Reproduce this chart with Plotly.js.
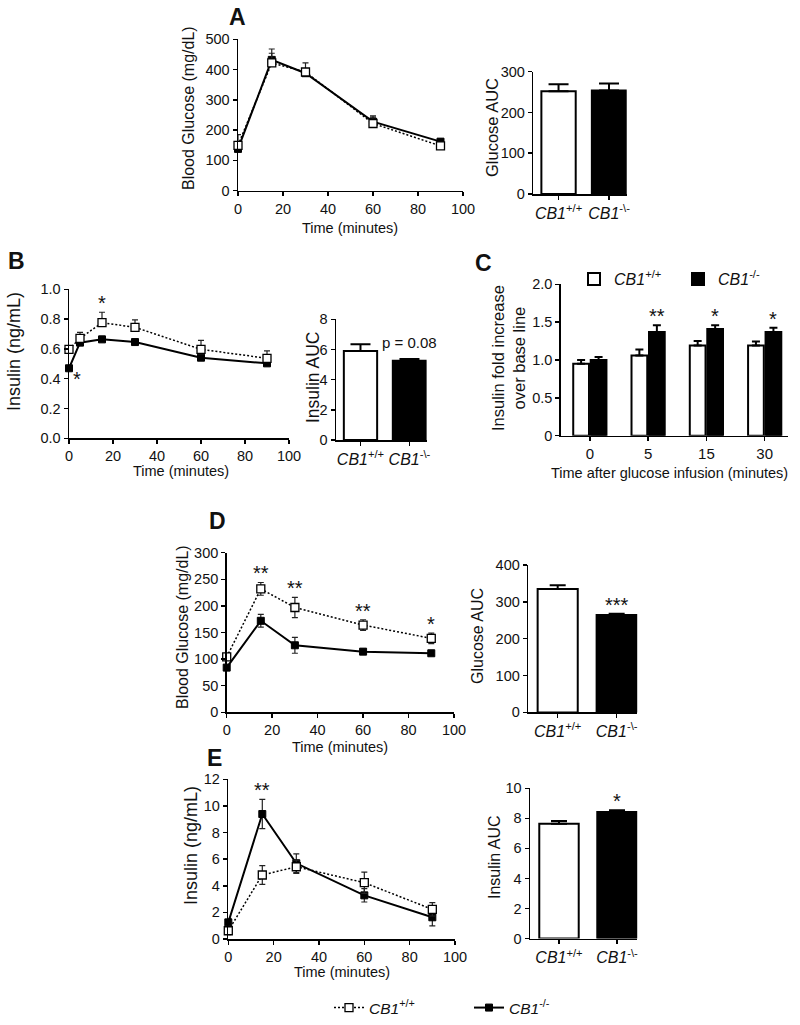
<!DOCTYPE html>
<html>
<head>
<meta charset="utf-8">
<script src="https://cdn.plot.ly/plotly-3.0.1.min.js"></script>
<style>html,body{margin:0;padding:0;background:#fff;overflow:hidden;}#chart{width:800px;height:1025px;}</style>
</head>
<body>
<div id="chart"></div>
<script>
// ---------------- DATA ----------------
const WT_NAME = '<i>CB1</i><sup>+/+</sup>';
const KO_NAME = '<i>CB1</i><sup>-/-</sup>';
const AUC_LABELS = ['<i>CB1</i><sup>+/+</sup>', '<i>CB1</i><sup>-\\-</sup>'];

// Panel A: glucose tolerance (mg/dL)
const A_time = [0, 15, 30, 60, 90];
const A_wt = [150, 422, 392, 222, 148];
const A_wt_err = [35, 46, 30, 25, 10];
const A_ko = [138, 432, 388, 228, 162];
const A_ko_err = [10, 22, 15, 15, 8];
const A_auc = [252, 254];
const A_auc_err = [17, 17];

// Panel B: insulin (ng/mL)
const B_time = [0, 5, 15, 30, 60, 90];
const B_wt = [0.597, 0.671, 0.776, 0.745, 0.597, 0.537];
const B_wt_err = [0.02, 0.04, 0.07, 0.05, 0.06, 0.05];
const B_ko = [0.47, 0.642, 0.664, 0.646, 0.541, 0.503];
const B_ko_err = [0.015, 0.015, 0.02, 0.015, 0.01, 0.01];
const B_stars_wt = ['', '', '*', '', '', ''];
const B_stars_ko = ['*', '', '', '', '', ''];
const B_auc = [5.9, 5.25];
const B_auc_err = [0.45, 0.12];
const B_auc_note = 'p = 0.08';

// Panel C: insulin fold increase over base line
const C_cats = ['0', '5', '15', '30'];
const C_wt = [0.95, 1.06, 1.19, 1.19];
const C_wt_err = [0.05, 0.08, 0.06, 0.055];
const C_ko = [1.0, 1.37, 1.41, 1.37];
const C_ko_err = [0.04, 0.09, 0.05, 0.055];
const C_stars = ['', '**', '*', '*'];

// Panel D: glucose (mg/dL)
const D_time = [0, 15, 30, 60, 90];
const D_wt = [104, 232, 197, 164, 139];
const D_wt_err = [5, 12, 19, 10, 10];
const D_ko = [84, 172, 126, 114, 111];
const D_ko_err = [3, 12, 15, 5, 3];
const D_stars = ['', '**', '**', '**', '*'];
const D_auc = [335, 264];
const D_auc_err = [10, 4];
const D_auc_stars = ['', '***'];

// Panel E: insulin (ng/mL)
const E_time = [0, 15, 30, 60, 90];
const E_wt = [0.62, 4.81, 5.43, 4.23, 2.23];
const E_wt_err = [0.3, 0.7, 0.5, 0.8, 0.5];
const E_ko = [1.25, 9.39, 5.69, 3.28, 1.63];
const E_ko_err = [0.3, 1.1, 0.7, 0.5, 0.65];
const E_stars = ['', '**', '', '', ''];
const E_auc = [7.64, 8.42];
const E_auc_err = [0.18, 0.12];
const E_auc_stars = ['', '*'];

// ---------------- STYLE / LAYOUT HELPERS ----------------
const FONT = 'Liberation Sans, Arial, Helvetica, sans-serif';
const TXT = '#111';
const W = 800, H = 1025;
const px = x => x / W;
const py = y => 1 - y / H;

function axBase(extra) {
  return Object.assign({
    showline: true, linecolor: '#000', linewidth: 1.5,
    ticks: 'outside', ticklen: 4, tickwidth: 1.5, tickcolor: '#000',
    showgrid: false, zeroline: false, fixedrange: true,
    tickfont: {family: FONT, size: 14.5, color: TXT}
  }, extra);
}
function xAx(l, r, range, anchor, extra) {
  return axBase(Object.assign({domain: [px(l), px(r)], range: range, anchor: anchor}, extra || {}));
}
function yAx(top, bottom, range, anchor, extra) {
  return axBase(Object.assign({domain: [py(bottom), py(top)], range: range, anchor: anchor}, extra || {}));
}
const zeros = a => a.map(() => 0);
const catFont = {family: FONT, size: 16, color: TXT};

function lineTraces(xa, ya, t, wt, wtE, ko, koE, upOnly, legend) {
  const ko_tr = {
    type: 'scatter', mode: 'lines+markers', x: t, y: ko, xaxis: xa, yaxis: ya,
    name: KO_NAME, showlegend: legend, legendrank: 2, cliponaxis: false,
    line: {color: '#000', width: 2},
    marker: {symbol: 'square', size: 7, color: '#000', line: {color: '#000', width: 1}},
    error_y: {type: 'data', array: koE, arrayminus: upOnly ? zeros(koE) : koE, symmetric: false,
              color: '#222', thickness: 1.2, width: 3}
  };
  const wt_tr = {
    type: 'scatter', mode: 'lines+markers', x: t, y: wt, xaxis: xa, yaxis: ya,
    name: WT_NAME, showlegend: legend, legendrank: 1, cliponaxis: false,
    line: {color: '#000', width: 1.5, dash: '2px,2px'},
    marker: {symbol: 'square', size: 8, color: '#fff', line: {color: '#000', width: 1.3}},
    error_y: {type: 'data', array: wtE, arrayminus: upOnly ? zeros(wtE) : wtE, symmetric: false,
              color: '#222', thickness: 1.2, width: 3}
  };
  return [ko_tr, wt_tr];
}
function aucTrace(xa, ya, vals, errs, capw) {
  return {
    type: 'bar', x: [0, 1], y: vals, width: 0.68, xaxis: xa, yaxis: ya, showlegend: false,
    marker: {color: ['#fff', '#000'], line: {color: '#000', width: 2}},
    error_y: {type: 'data', array: errs, arrayminus: zeros(errs), symmetric: false,
              color: '#000', thickness: 2, width: capw}
  };
}

// ---------------- TRACES ----------------
const traces = [];
traces.push(...lineTraces('x', 'y', A_time, A_wt, A_wt_err, A_ko, A_ko_err, true, false));
traces.push(aucTrace('x2', 'y2', A_auc, A_auc_err, 10));
traces.push(...lineTraces('x3', 'y3', B_time, B_wt, B_wt_err, B_ko, B_ko_err, true, false));
traces.push(aucTrace('x4', 'y4', B_auc, B_auc_err, 10));
traces.push({
  type: 'bar', x: [0, 1, 2, 3], y: C_wt, xaxis: 'x5', yaxis: 'y5', name: WT_NAME, legend: 'legend2',
  marker: {color: '#fff', line: {color: '#000', width: 2}},
  error_y: {type: 'data', array: C_wt_err, arrayminus: zeros(C_wt_err), symmetric: false, color: '#000', thickness: 2, width: 4}
});
traces.push({
  type: 'bar', x: [0, 1, 2, 3], y: C_ko, xaxis: 'x5', yaxis: 'y5', name: KO_NAME, legend: 'legend2',
  marker: {color: '#000', line: {color: '#000', width: 2}},
  error_y: {type: 'data', array: C_ko_err, arrayminus: zeros(C_ko_err), symmetric: false, color: '#000', thickness: 2, width: 4}
});
traces.push(...lineTraces('x6', 'y6', D_time, D_wt, D_wt_err, D_ko, D_ko_err, false, false));
traces.push(aucTrace('x7', 'y7', D_auc, D_auc_err, 8));
traces.push(...lineTraces('x8', 'y8', E_time, E_wt, E_wt_err, E_ko, E_ko_err, false, true));
traces.push(aucTrace('x9', 'y9', E_auc, E_auc_err, 8));

// ---------------- ANNOTATIONS ----------------
const ann = [];
function txt(x, y, text, size, opts) {
  ann.push(Object.assign({xref: 'paper', yref: 'paper', x: px(x), y: py(y), text: text, showarrow: false,
    xanchor: 'center', yanchor: 'middle', font: {family: FONT, size: size, color: TXT}}, opts || {}));
}
function starsAbove(xa, ya, xs, tops, labels, dx) {
  labels.forEach((s, i) => {
    if (!s) return;
    ann.push({xref: xa, yref: ya, x: xs[i] + (dx || 0), y: tops[i], text: s, showarrow: false,
      xanchor: 'center', yanchor: 'bottom', yshift: -4,
      font: {family: FONT, size: 20, color: TXT}});
  });
}
const topOf = (v, e) => v.map((d, i) => d + e[i]);
const maxTop = (a, b) => a.map((d, i) => Math.max(d, b[i]));

// panel letters
txt(237, 17, '<b>A</b>', 23);
txt(16, 261, '<b>B</b>', 23);
txt(483, 263, '<b>C</b>', 23);
txt(217, 521, '<b>D</b>', 23);
txt(214, 758, '<b>E</b>', 23);

// axis titles
txt(189, 108, 'Blood Glucose (mg/dL)', 16, {textangle: -90});
txt(350, 228, 'Time (minutes)', 14.5);
txt(492, 128, 'Glucose AUC', 16.5, {textangle: -90});
txt(14, 352, 'Insulin (ng/mL)', 18, {textangle: -90});
txt(181, 471, 'Time (minutes)', 14.5);
txt(313, 378, 'Insulin AUC', 17.5, {textangle: -90});
txt(508, 358, 'Insulin fold increase<br>over base line', 16.5, {textangle: -90});
txt(669, 473, 'Time after glucose infusion (minutes)', 14.5);
txt(182, 627, 'Blood Glucose (mg/dL)', 16, {textangle: -90});
txt(340, 747, 'Time (minutes)', 14.5);
txt(477, 636, 'Glucose AUC', 16, {textangle: -90});
txt(191, 846, 'Insulin (ng/mL)', 18, {textangle: -90});
txt(342, 972, 'Time (minutes)', 14.5);
txt(494, 857, 'Insulin AUC', 16, {textangle: -90});

// significance marks
starsAbove('x3', 'y3', B_time, topOf(B_wt, B_wt_err), B_stars_wt);
B_stars_ko.forEach((s, i) => {
  if (!s) return;
  ann.push({xref: 'x3', yref: 'y3', x: B_time[i], y: B_ko[i], text: s, showarrow: false,
    xanchor: 'center', yanchor: 'top', xshift: 8, yshift: 2, font: {family: FONT, size: 20, color: TXT}});
});
ann.push({xref: 'x4', yref: 'y4', x: 1, y: B_auc[1] + B_auc_err[1], text: B_auc_note, showarrow: false,
  xanchor: 'center', yanchor: 'bottom', yshift: 6, font: {family: FONT, size: 15, color: TXT}});
starsAbove('x5', 'y5', [0, 1, 2, 3], topOf(C_ko, C_ko_err), C_stars, 0.15);
starsAbove('x6', 'y6', D_time, maxTop(topOf(D_wt, D_wt_err), topOf(D_ko, D_ko_err)), D_stars);
starsAbove('x7', 'y7', [0, 1], topOf(D_auc, D_auc_err), D_auc_stars);
starsAbove('x8', 'y8', E_time, maxTop(topOf(E_wt, E_wt_err), topOf(E_ko, E_ko_err)), E_stars);
starsAbove('x9', 'y9', [0, 1], topOf(E_auc, E_auc_err), E_auc_stars);

// ---------------- LAYOUT ----------------
const t20 = [0, 20, 40, 60, 80, 100];
const layout = {
  autosize: false,
  width: W, height: H, margin: {l: 0, r: 0, t: 0, b: 0, pad: 0, autoexpand: false},
  paper_bgcolor: '#fff', plot_bgcolor: 'rgba(0,0,0,0)',
  font: {family: FONT, color: TXT},
  barmode: 'group', bargap: 0.4, bargroupgap: 0.1,
  // A
  xaxis: xAx(238, 463, [0, 100], 'y', {tickvals: t20}),
  yaxis: yAx(39.3, 190.7, [0, 500], 'x', {tickvals: [0, 100, 200, 300, 400, 500]}),
  xaxis2: xAx(533.3, 626.7, [-0.5, 1.35], 'y2', {tickvals: [0, 1], ticktext: AUC_LABELS, tickfont: catFont}),
  yaxis2: yAx(71.7, 194, [0, 300], 'x2', {tickvals: [0, 100, 200, 300]}),
  // B
  xaxis3: xAx(69, 289, [0, 100], 'y3', {tickvals: t20}),
  yaxis3: yAx(289.3, 438.3, [0, 1], 'x3', {tickvals: [0, 0.2, 0.4, 0.6, 0.8, 1.0], tickformat: '.1f'}),
  xaxis4: xAx(336, 426.6, [-0.5, 1.35], 'y4', {tickvals: [0, 1], ticktext: AUC_LABELS, tickfont: catFont}),
  yaxis4: yAx(319.3, 440, [0, 8], 'x4', {tickvals: [0, 2, 4, 6, 8]}),
  // C
  xaxis5: xAx(560.7, 788, [-0.5, 3.4], 'y5', {tickvals: [0, 1, 2, 3], ticktext: C_cats, tickfont: {family: FONT, size: 15, color: TXT}}),
  yaxis5: yAx(284.3, 435.7, [0, 2], 'x5', {tickvals: [0, 0.5, 1, 1.5, 2], ticktext: ['0', '0.5', '1.0', '1.5', '2.0']}),
  // D
  xaxis6: xAx(226.7, 454, [0, 100], 'y6', {tickvals: t20}),
  yaxis6: yAx(552.7, 712.3, [0, 300], 'x6', {tickvals: [0, 50, 100, 150, 200, 250, 300]}),
  xaxis7: xAx(528.2, 637.3, [-0.5, 1.35], 'y7', {tickvals: [0, 1], ticktext: AUC_LABELS, tickfont: catFont}),
  yaxis7: yAx(565, 712.4, [0, 400], 'x7', {tickvals: [0, 100, 200, 300, 400]}),
  // E
  xaxis8: xAx(228.3, 455, [0, 100], 'y8', {tickvals: t20}),
  yaxis8: yAx(779.3, 939, [0, 12], 'x8', {tickvals: [0, 2, 4, 6, 8, 10, 12]}),
  xaxis9: xAx(530, 637.3, [-0.5, 1.35], 'y9', {tickvals: [0, 1], ticktext: AUC_LABELS, tickfont: catFont}),
  yaxis9: yAx(788.3, 938.6, [0, 10], 'x9', {tickvals: [0, 2, 4, 6, 8, 10]}),
  legend: {x: px(329), y: py(1008), xanchor: 'left', yanchor: 'middle', orientation: 'h',
    entrywidth: 95, entrywidthmode: 'pixels', traceorder: 'normal',
    font: {family: FONT, size: 15.5, color: TXT}, bgcolor: 'rgba(0,0,0,0)'},
  legend2: {x: px(574), y: py(279), xanchor: 'left', yanchor: 'middle', orientation: 'h',
    entrywidth: 59, entrywidthmode: 'pixels', traceorder: 'normal',
    font: {family: FONT, size: 16, color: TXT}, bgcolor: 'rgba(0,0,0,0)'},
  annotations: ann,
  showlegend: true
};

Plotly.newPlot('chart', traces, layout, {staticPlot: true, displayModeBar: false, responsive: false});
</script>
</body>
</html>
